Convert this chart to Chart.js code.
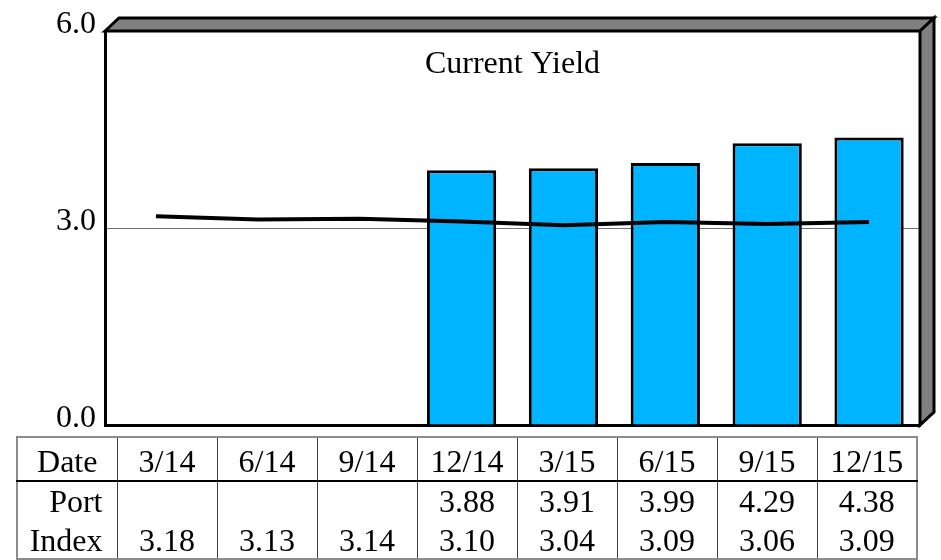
<!DOCTYPE html>
<html>
<head>
<meta charset="utf-8">
<script src="https://cdn.jsdelivr.net/npm/chart.js@4/dist/chart.umd.min.js"></script>
<style>
  html, body { margin: 0; padding: 0; background: #fff; }
  #wrap { position: relative; width: 941px; height: 560px; overflow: hidden; }
  #yieldChart { position: absolute; left: 0; top: 0; }
  #yieldTable {
    position: absolute; left: 16px; top: 436px;
    border-collapse: collapse; table-layout: fixed; width: 902px;
    font-family: 'Liberation Serif', 'Times New Roman', serif; font-size: 32px;
    color: #000; border: 2px solid #8c8c8c;
  }
  #yieldTable td {
    padding: 0; text-align: center; white-space: nowrap; overflow: hidden;
    border-left: 1px solid #404040; border-right: 1px solid #404040;
  }
  #yieldTable td span { position: relative; }
  #yieldTable tr.head td { height: 42px; line-height: 42px; border-bottom: 2px solid #000; }
  #yieldTable tr.head td span { top: 2px; }
  #yieldTable tr.port td { height: 39px; line-height: 39px; }
  #yieldTable tr.idx td { height: 37px; line-height: 37px; }
  #yieldTable tr.idx td span { top: 1px; }
  #yieldTable td.rowName { text-align: right; padding-right: 14px; }
</style>
</head>
<body>
<div id="wrap">
  <canvas id="yieldChart" width="941" height="560"></canvas>
  <table id="yieldTable"></table>
</div>
<script>
var dates = ["3/14", "6/14", "9/14", "12/14", "3/15", "6/15", "9/15", "12/15"];
var portYield = [null, null, null, 3.88, 3.91, 3.99, 4.29, 4.38];
var indexYield = [3.18, 3.13, 3.14, 3.10, 3.04, 3.09, 3.06, 3.09];
var yTicks = [0, 3, 6];
var chartTitle = "Current Yield";

var serif = "'Liberation Serif', 'Times New Roman', serif";

// grey 3d box round the plot area plus the title inside it
var boxFrame = {
  id: 'boxFrame',
  afterDraw: function (chart) {
    var a = chart.chartArea;
    var ctx = chart.ctx;
    var dx = 14, dy = 13;
    ctx.save();
    ctx.fillStyle = '#808080';
    ctx.strokeStyle = '#000';
    ctx.lineWidth = 3;
    ctx.lineJoin = 'miter';
    // top face
    ctx.beginPath();
    ctx.moveTo(a.left, a.top);
    ctx.lineTo(a.left + dx, a.top - dy);
    ctx.lineTo(a.right + dx, a.top - dy);
    ctx.lineTo(a.right, a.top);
    ctx.closePath();
    ctx.fill();
    ctx.stroke();
    // right face
    ctx.beginPath();
    ctx.moveTo(a.right, a.top);
    ctx.lineTo(a.right + dx, a.top - dy);
    ctx.lineTo(a.right + dx, a.bottom - dy);
    ctx.lineTo(a.right, a.bottom);
    ctx.closePath();
    ctx.fill();
    ctx.stroke();

    ctx.fillStyle = '#000';
    ctx.font = '32px ' + serif;
    ctx.textAlign = 'center';
    ctx.textBaseline = 'alphabetic';
    ctx.fillText(chartTitle, (a.left + a.right) / 2, a.top + 42);
    ctx.restore();
  }
};

var ctx = document.getElementById('yieldChart');
var yieldChart = new Chart(ctx, {
  type: 'bar',
  data: {
    labels: dates,
    datasets: [{
      type: 'line',
      label: 'Index',
      data: indexYield,
      borderColor: '#000',
      borderWidth: 4,
      pointRadius: 0,
      tension: 0,
      order: 0
    }, {
      type: 'bar',
      label: 'Port',
      data: portYield,
      backgroundColor: '#00b4ff',
      borderColor: '#000',
      borderWidth: 3,
      categoryPercentage: 1,
      barPercentage: 0.68,
      order: 1
    }]
  },
  options: {
    responsive: false,
    animation: false,
    devicePixelRatio: 1,
    layout: { padding: { left: 0, top: 31, right: 21, bottom: 135 } },
    plugins: {
      legend: { display: false },
      tooltip: { enabled: false },
      title: { display: false }
    },
    scales: {
      x: {
        ticks: { display: false },
        grid: { display: false },
        border: { display: true, color: '#000', width: 3 },
        afterFit: function (scale) { scale.height = 0; }
      },
      y: {
        min: 0,
        max: 6,
        afterBuildTicks: function (scale) {
          scale.ticks = yTicks.map(function (v) { return { value: v }; });
        },
        ticks: {
          color: '#000',
          font: { family: serif, size: 32 },
          padding: 9,
          labelOffset: -6,
          callback: function (v) { return Number(v).toFixed(1); }
        },
        grid: {
          drawTicks: false,
          lineWidth: 1,
          color: function (c) { return c.tick && c.tick.value === 3 ? '#707070' : 'rgba(0,0,0,0)'; }
        },
        border: { display: true, color: '#000', width: 3 },
        afterFit: function (scale) { scale.width = 105; }
      }
    }
  },
  plugins: [boxFrame]
});

// data table under the chart
function fmt(v) { return v === null ? '' : v.toFixed(2); }
function cell(text, cls) {
  return '<td' + (cls ? ' class="' + cls + '"' : '') + '><span>' + text + '</span></td>';
}
var table = document.getElementById('yieldTable');
var html = '<colgroup>';
for (var i = 0; i <= dates.length; i++) html += '<col style="width:100px">';
html += '</colgroup>';
html += '<tr class="head">' + cell('Date');
for (var i = 0; i < dates.length; i++) html += cell(dates[i]);
html += '</tr><tr class="port">' + cell('Port', 'rowName');
for (var i = 0; i < portYield.length; i++) html += cell(fmt(portYield[i]));
html += '</tr><tr class="idx">' + cell('Index', 'rowName');
for (var i = 0; i < indexYield.length; i++) html += cell(fmt(indexYield[i]));
html += '</tr>';
table.innerHTML = html;
</script>
</body>
</html>
